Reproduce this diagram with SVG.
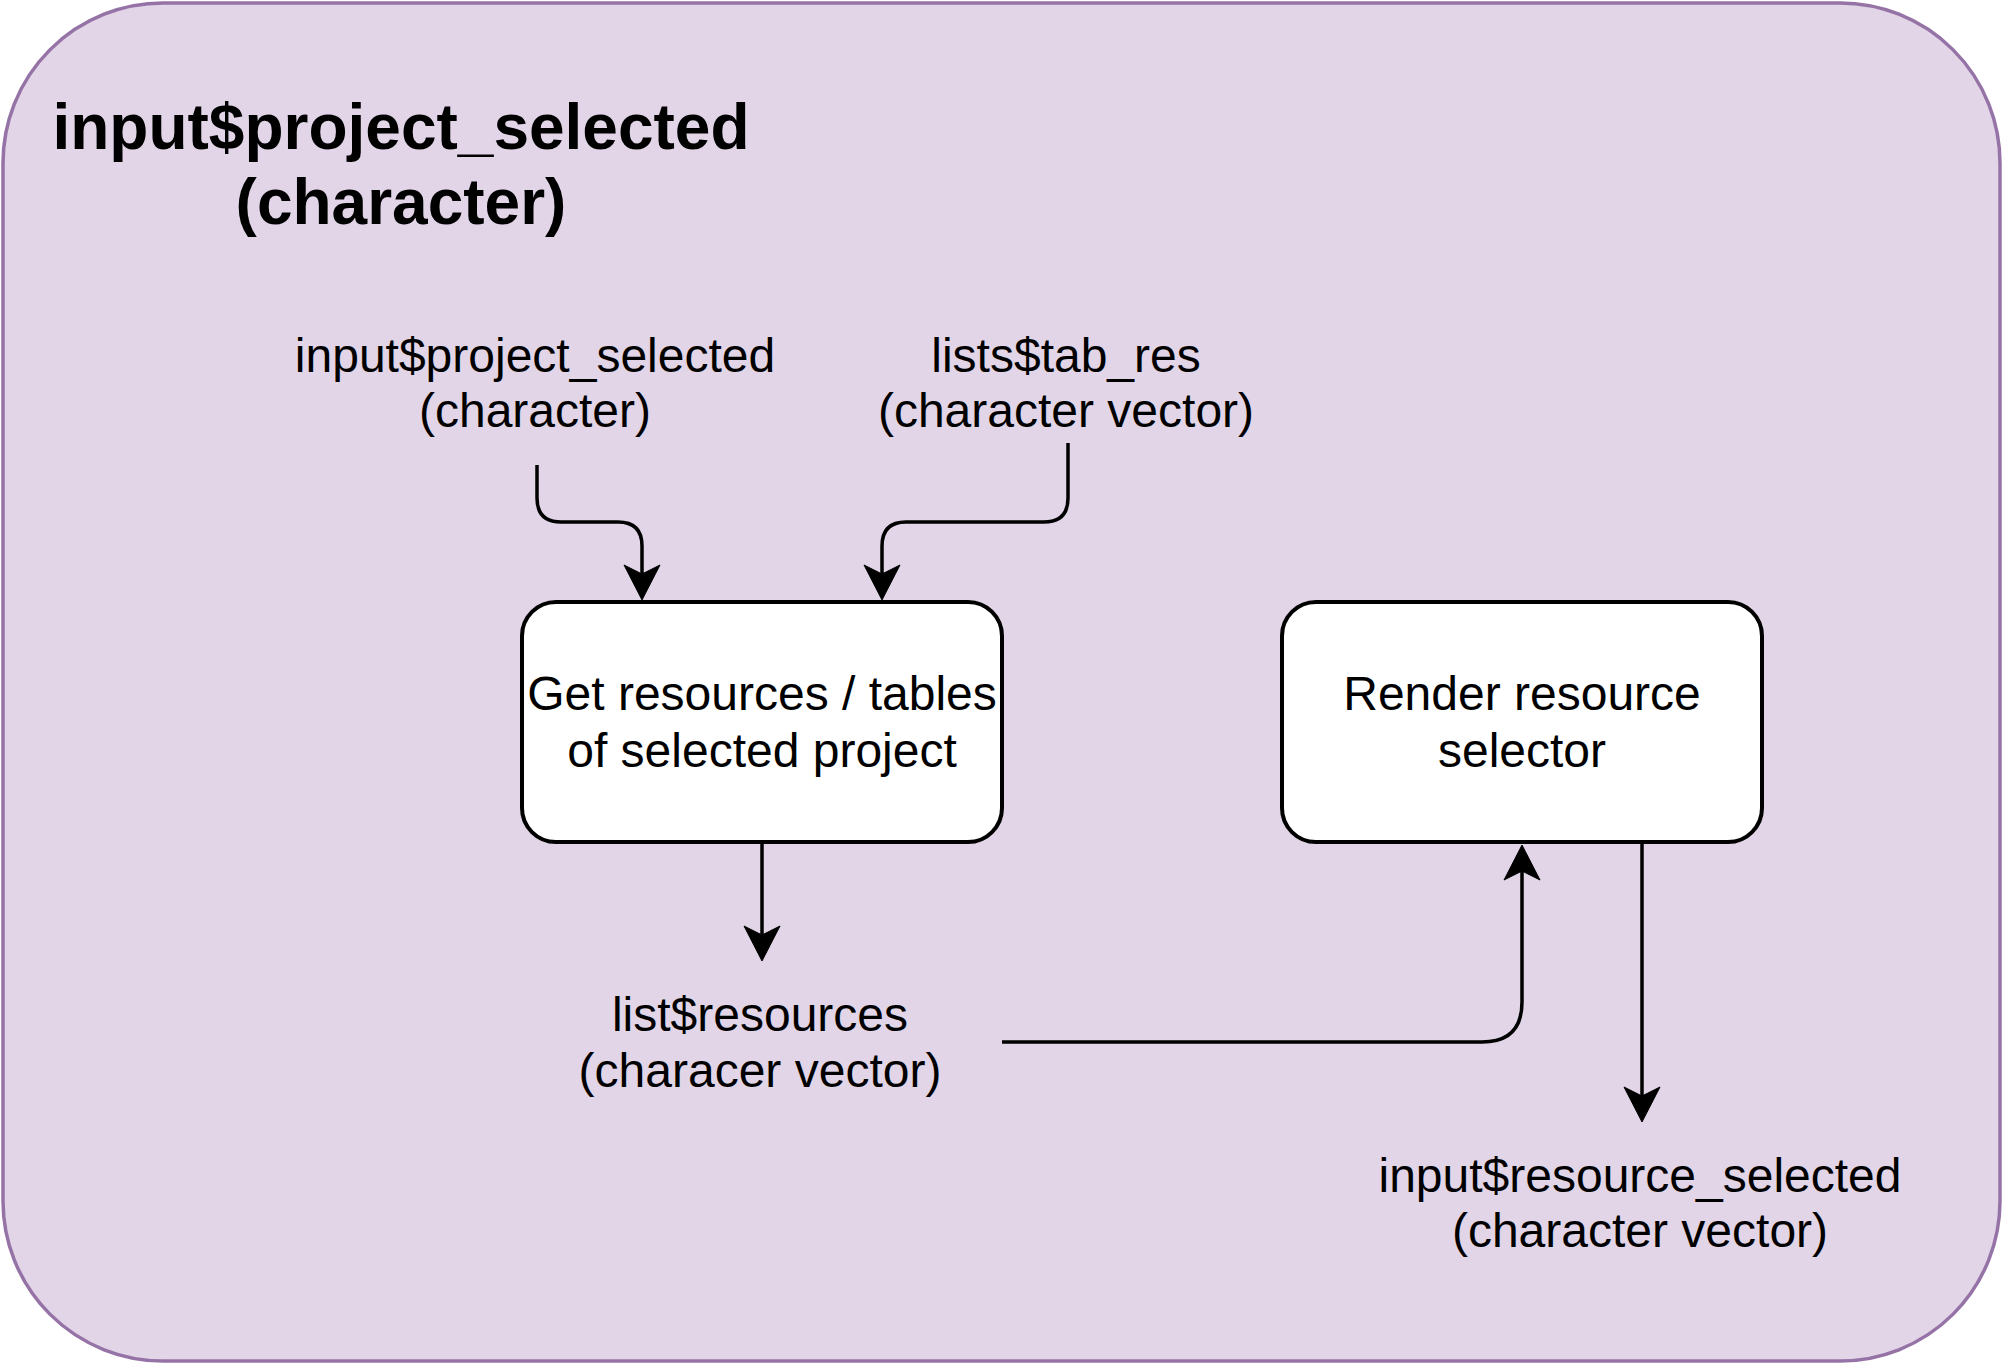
<svg xmlns="http://www.w3.org/2000/svg" width="2004" height="1364" viewBox="0 0 2004 1364">
<style>
  .t { font-family: "Liberation Sans", Arial, sans-serif; font-size: 48px; fill: #000; text-anchor: middle; }
  .title { font-family: "Liberation Sans", Arial, sans-serif; font-size: 64px; font-weight: bold; fill: #000; text-anchor: middle; }
  .node { fill: #ffffff; stroke: #000; stroke-width: 4; }
  .edge { fill: none; stroke: #000; stroke-width: 3.5; marker-end: url(#arrow); }
</style>
<defs>
  <marker id="arrow" markerUnits="userSpaceOnUse" viewBox="-37 -20 38 40" markerWidth="38" markerHeight="40" refX="-26" refY="0" orient="auto">
    <path d="M0,0 L-35,-18 L-26,0 L-35,18 Z" fill="#000" stroke="#000" stroke-width="1"/>
  </marker>
</defs>
<g id="container">
  <rect x="3" y="3" width="1997" height="1358" rx="160" ry="160" fill="#e1d5e7" stroke="#9673a6" stroke-width="3.5"/>
  <text class="title" x="401" y="149">input$project_selected</text>
  <text class="title" x="401" y="224">(character)</text>
</g>
<g id="label-project-selected">
  <text class="t" x="535" y="372">input$project_selected</text>
  <text class="t" x="535" y="427">(character)</text>
</g>
<g id="label-tab-res">
  <text class="t" x="1066" y="372">lists$tab_res</text>
  <text class="t" x="1066" y="427">(character vector)</text>
</g>
<g id="node-get-resources">
  <rect class="node" x="522" y="602" width="480" height="240" rx="34" ry="34"/>
  <text class="t" x="762" y="710">Get resources / tables</text>
  <text class="t" x="762" y="767">of selected project</text>
</g>
<g id="node-render-selector">
  <rect class="node" x="1282" y="602" width="480" height="240" rx="34" ry="34"/>
  <text class="t" x="1522" y="710">Render resource</text>
  <text class="t" x="1522" y="767">selector</text>
</g>
<g id="label-resources">
  <text class="t" x="760" y="1031">list$resources</text>
  <text class="t" x="760" y="1087">(characer vector)</text>
</g>
<g id="label-resource-selected">
  <text class="t" x="1640" y="1192">input$resource_selected</text>
  <text class="t" x="1640" y="1247">(character vector)</text>
</g>
<g id="connectors">
  <path class="edge" d="M537,465 V498 Q537,522 561,522 H618 Q642,522 642,546 V574"/>
  <path class="edge" d="M1068,443 V498 Q1068,522 1044,522 H906 Q882,522 882,546 V574"/>
  <path class="edge" d="M762,842 V935"/>
  <path class="edge" d="M1002,1042 H1482 Q1522,1042 1522,1002 V871"/>
  <path class="edge" d="M1642,842 V1096"/>
</g>
</svg>
